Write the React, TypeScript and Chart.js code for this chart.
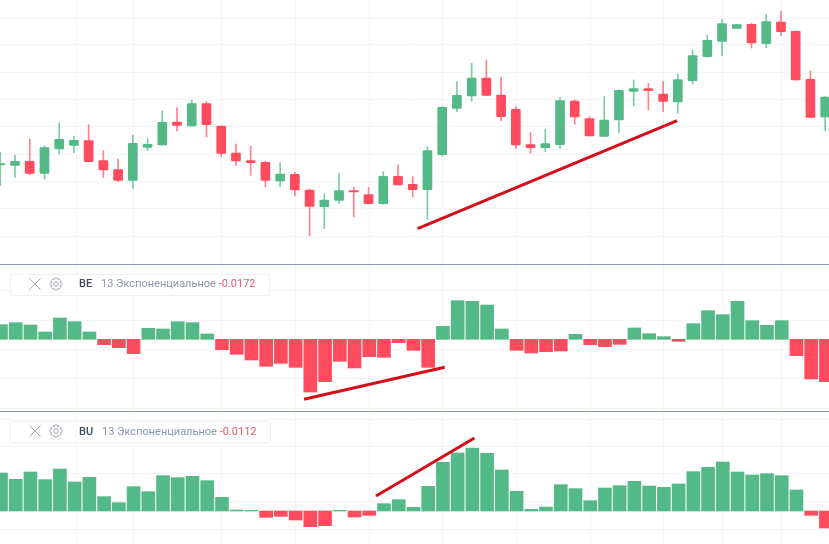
import React, { useEffect, useRef } from "react";
import { Chart, registerables } from "chart.js";

Chart.register(...registerables);

const GREEN = "#53b987";
const RED = "#ff4b5e";
const GREEN_WICK = "rgba(83, 185, 135, 0.75)";
const RED_WICK = "rgba(255, 75, 94, 0.7)";
const TREND = "#d3101a";
const GRID = "#f3f5f9";
const SEPARATOR = "#8c99aa";

// candles, left to right
const opens = [29.7, 29.6, 30.8, 27.2, 34.5, 35.6, 37.0, 31.0, 28.3, 25.1, 35.0, 35.7, 42.6, 41.4, 48.1, 41.4, 33.3, 31.0, 30.5, 24.9, 26.9, 22.2, 17.2, 19.1, 22.0, 20.8, 18.1, 26.3, 23.9, 22.3, 32.8, 46.7, 50.4, 55.8, 50.7, 46.4, 35.8, 34.9, 35.8, 48.9, 43.6, 38.3, 43.2, 51.8, 52.6, 51.0, 48.6, 55.0, 62.2, 66.8, 70.7, 71.9, 66.1, 72.6, 69.8, 55.4, 44.1];
const highs = [33.5, 32.7, 37.5, 35.4, 42.4, 38.4, 41.8, 34.0, 31.5, 38.7, 37.7, 45.9, 46.9, 49.2, 48.7, 41.4, 36.0, 35.3, 30.9, 30.4, 27.6, 22.5, 21.1, 27.3, 23.0, 23.0, 27.7, 29.7, 26.2, 35.2, 47.2, 54.7, 60.2, 61.2, 56.0, 47.2, 39.4, 40.4, 49.9, 49.2, 44.2, 50.2, 52.2, 55.2, 54.2, 54.7, 57.0, 64.2, 68.7, 73.4, 71.9, 72.2, 74.9, 75.9, 69.9, 57.9, 50.2];
const lows = [23.5, 26.0, 26.8, 25.4, 33.0, 33.4, 30.7, 26.0, 24.7, 22.7, 34.0, 35.6, 39.9, 41.4, 38.1, 32.2, 29.6, 26.6, 23.2, 23.2, 20.4, 8.4, 10.6, 18.2, 14.2, 18.0, 17.9, 23.7, 20.2, 13.4, 32.4, 45.7, 48.9, 50.5, 43.0, 34.6, 33.2, 33.7, 34.5, 41.9, 38.4, 38.2, 39.4, 47.4, 46.2, 45.8, 45.2, 54.0, 62.0, 62.5, 70.6, 64.8, 64.9, 68.5, 55.1, 43.9, 40.0];
const closes = [30.1, 30.8, 27.2, 34.9, 37.4, 37.1, 30.7, 28.2, 25.1, 36.2, 35.9, 42.5, 41.6, 48.1, 41.8, 33.2, 30.9, 30.4, 25.1, 27.0, 22.2, 17.3, 19.2, 22.0, 21.6, 18.1, 26.3, 23.7, 22.3, 34.0, 47.0, 50.6, 55.8, 50.6, 44.2, 35.7, 34.9, 36.1, 49.0, 44.1, 38.4, 43.2, 52.1, 52.6, 52.0, 48.8, 55.3, 62.5, 67.1, 72.1, 71.8, 66.3, 72.7, 69.7, 55.2, 44.0, 50.1];

// Bear power / bull power histograms
const bearPower = [0.0044, 0.005, 0.0043, 0.0022, 0.0064, 0.0053, 0.0022, -0.0016, -0.0025, -0.0043, 0.0033, 0.0031, 0.0053, 0.005, 0.0016, -0.0031, -0.0045, -0.0062, -0.0081, -0.0072, -0.0084, -0.0158, -0.0127, -0.0066, -0.0086, -0.0052, -0.0054, -0.001, -0.0033, -0.0084, 0.0039, 0.0116, 0.0114, 0.0103, 0.0031, -0.0033, -0.0041, -0.0037, -0.0035, 0.0015, -0.0016, -0.0022, -0.0015, 0.0034, 0.0017, 0.0008, -0.0006, 0.0047, 0.0086, 0.0074, 0.0114, 0.0056, 0.0042, 0.0056, -0.0049, -0.0119, -0.0127];
const bullPower = [0.0114, 0.0095, 0.0117, 0.0094, 0.0126, 0.0087, 0.0101, 0.0043, 0.0025, 0.0073, 0.0058, 0.0106, 0.01, 0.0104, 0.0091, 0.0041, 0.0003, 0.0002, -0.0019, -0.0016, -0.0027, -0.0047, -0.0044, 0.0002, -0.0018, -0.0013, 0.0022, 0.0034, 0.0011, 0.0074, 0.0146, 0.0174, 0.0189, 0.0173, 0.0123, 0.0059, 0.0005, 0.0012, 0.0079, 0.0067, 0.0031, 0.0069, 0.0076, 0.0089, 0.0075, 0.0071, 0.0081, 0.0118, 0.0131, 0.0147, 0.0117, 0.0108, 0.0112, 0.0106, 0.0063, -0.0013, -0.0051];

// hand drawn trend lines: [candle index, value]
const priceTrend = [[28.33, 10.6], [45.95, 43.0]];
const bearTrend = [[20.57, -0.018], [30.12, -0.0084]];
const bullTrend = [[25.46, 0.0045], [32.14, 0.0219]];

// grid lines
const timeTicks = [5.1, 9, 15, 20, 25, 30, 35, 40, 45, 49, 53];
const priceTicks = [73.7, 65.7, 57.5, 49.4, 41.2, 33.0, 24.8, 16.6, 8.4];
const bearTicks = [0.0147, 0.0057, -0.003, -0.0118, -0.0208];
const bullTicks = [0.0276, 0.0194, 0.0111, 0.0027, -0.0056];

const X_MIN = -0.068;
const X_SPAN = 56.278;
// the candles sit a little left of the histogram bars
const CANDLE_SHIFT = 0.05;

const trendDataset = (points: number[][]) => ({
  type: "line",
  data: points.map(([x, y]) => ({ x, y })),
  borderColor: TREND,
  borderWidth: 3,
  pointRadius: 0,
  order: 0,
});

const baseOptions = (yMin: number, yMax: number, yTicks: number[], shift = 0): any => ({
  responsive: false,
  animation: false,
  layout: { padding: 0 },
  plugins: { legend: { display: false }, tooltip: { enabled: false } },
  scales: {
    x: {
      type: "linear",
      min: X_MIN + shift,
      max: X_MIN + shift + X_SPAN,
      offset: false,
      grid: { color: GRID, offset: false, drawTicks: false },
      border: { display: false },
      ticks: { display: false },
      afterBuildTicks: (axis: any) => {
        axis.ticks = timeTicks.map((value) => ({ value: value + shift }));
      },
    },
    y: {
      min: yMin,
      max: yMax,
      grid: { color: GRID, drawTicks: false },
      border: { display: false },
      ticks: { display: false },
      afterBuildTicks: (axis: any) => {
        axis.ticks = yTicks.map((value) => ({ value }));
      },
    },
  },
});

const candleConfig = (): any => {
  const up = closes.map((c, i) => c >= opens[i]);
  return {
    type: "bar",
    data: {
      datasets: [
        {
          data: closes.map((c, i) => ({ x: i, y: [opens[i], c] })),
          backgroundColor: up.map((u) => (u ? GREEN : RED)),
          barThickness: 9,
          grouped: false,
          borderRadius: 1,
          borderSkipped: false,
          order: 1,
        },
        {
          data: highs.map((h, i) => ({ x: i, y: [lows[i], h] })),
          backgroundColor: up.map((u) => (u ? GREEN_WICK : RED_WICK)),
          barThickness: 1,
          grouped: false,
          order: 2,
        },
        trendDataset(priceTrend),
      ],
    },
    options: baseOptions(0, 79.2, priceTicks, CANDLE_SHIFT),
  };
};

const histogramConfig = (values: number[], trend: number[][], yMin: number, yMax: number, yTicks: number[]): any => ({
  type: "bar",
  data: {
    datasets: [
      {
        data: values.map((v, i) => ({ x: i, y: v })),
        backgroundColor: values.map((v) => (v >= 0 ? GREEN : RED)),
        barThickness: 13,
        order: 1,
      },
      trendDataset(trend),
    ],
  },
  options: baseOptions(yMin, yMax, yTicks),
});

const Panel = ({ top, height, config }: { top: number; height: number; config: () => any }) => {
  const canvasRef = useRef<HTMLCanvasElement>(null);

  useEffect(() => {
    if (!canvasRef.current) return;
    const chart = new Chart(canvasRef.current, config());
    return () => chart.destroy();
  }, []);

  return (
    <canvas
      ref={canvasRef}
      width={829}
      height={height}
      style={{ position: "absolute", left: 0, top, width: 829, height }}
    />
  );
};

const IndicatorLegend = ({
  top,
  name,
  width,
  value,
  textLeft,
  textTop,
}: {
  top: number;
  name: string;
  width: number;
  value: string;
  textLeft: number;
  textTop: number;
}) => (
  <div
    style={{
      position: "absolute",
      left: 10,
      top,
      width,
      height: 22,
      boxSizing: "border-box",
      border: "1px solid #eef0f4",
      borderRadius: 3,
      background: "rgba(255,255,255,0.9)",
      fontFamily: "Roboto, sans-serif",
      fontSize: 11,
      lineHeight: "19px",
      color: "#8c97a8",
    }}
  >
    <svg width="14" height="14" viewBox="0 0 14 14" style={{ position: "absolute", left: 17, top: 2 }}>
      <path d="M1.5 1.5 L12.5 12.5 M12.5 1.5 L1.5 12.5" stroke="#a3a9b2" strokeWidth="1" fill="none" />
    </svg>
    <svg width="14" height="14" viewBox="0 0 14 14" style={{ position: "absolute", left: 38, top: 2 }}>
      <circle cx="7" cy="7" r="2.4" stroke="#a3a9b2" strokeWidth="1" fill="none" />
      <path
        d="M5.8 1 H8.2 L8.6 2.6 L10.2 1.9 L12 3.7 L11.2 5.3 L13 5.8 V8.2 L11.2 8.7 L12 10.3 L10.2 12.1 L8.6 11.4 L8.2 13 H5.8 L5.4 11.4 L3.8 12.1 L2 10.3 L2.8 8.7 L1 8.2 V5.8 L2.8 5.3 L2 3.7 L3.8 1.9 L5.4 2.6 Z"
        stroke="#a3a9b2"
        strokeWidth="0.9"
        fill="none"
      />
    </svg>
    <span style={{ position: "absolute", left: 68, top: textTop, color: "#3c4a5c", fontWeight: 500 }}>{name}</span>
    <span style={{ position: "absolute", left: textLeft, top: textTop, whiteSpace: "nowrap" }}>
      13 Экспоненциальное <span style={{ color: "#d8606f" }}>{value}</span>
    </span>
  </div>
);

export default function App() {
  return (
    <div style={{ position: "fixed", left: 0, top: 0, width: 829, height: 544, overflow: "hidden", background: "#fff" }}>
      <Panel top={0} height={264} config={candleConfig} />
      <Panel top={264} height={147} config={() => histogramConfig(bearPower, bearTrend, -0.0215, 0.0226, bearTicks)} />
      <Panel top={411} height={133} config={() => histogramConfig(bullPower, bullTrend, -0.0099, 0.03, bullTicks)} />
      <div style={{ position: "absolute", left: 0, top: 264, width: 829, height: 1, background: SEPARATOR }} />
      <div style={{ position: "absolute", left: 0, top: 411, width: 829, height: 1, background: SEPARATOR }} />
      <IndicatorLegend top={274} name="BE" width={260} value="-0.0172" textLeft={90} textTop={-1} />
      <IndicatorLegend top={421} name="BU" width={261} value="-0.0112" textLeft={91} textTop={0} />
    </div>
  );
}
